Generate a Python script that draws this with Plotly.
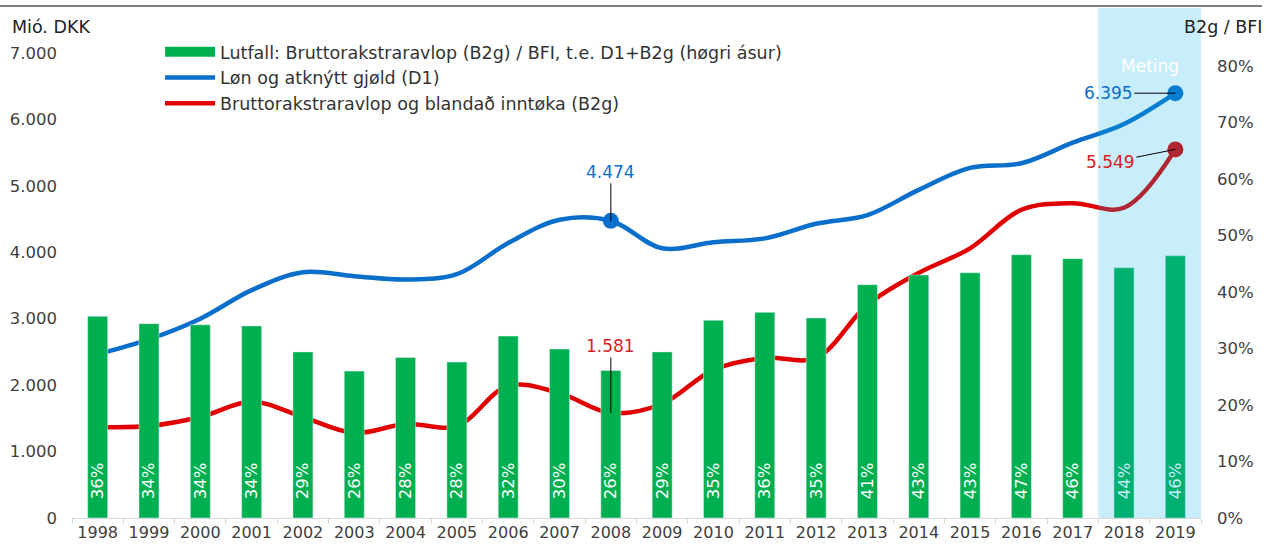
import plotly.graph_objects as go

years = [str(y) for y in range(1998, 2020)]
share_pct = [35.7, 34.4, 34.2, 34.0, 29.4, 26.0, 28.4, 27.6, 32.2, 29.9, 26.1, 29.4,
             35.0, 36.4, 35.4, 41.3, 43.0, 43.4, 46.6, 45.9, 44.3, 46.4]
share_labels = ["36%", "34%", "34%", "34%", "29%", "26%", "28%", "28%", "32%", "30%", "26%",
                "29%", "35%", "36%", "35%", "41%", "43%", "43%", "47%", "46%", "44%", "46%"]
d1 = [2469, 2690, 3000, 3430, 3700, 3640, 3590, 3670, 4140, 4490, 4474, 4060,
      4150, 4210, 4430, 4560, 4940, 5270, 5340, 5650, 5930, 6395]
b2g = [1370, 1385, 1520, 1750, 1520, 1280, 1415, 1385, 1990, 1880, 1581, 1720,
       2230, 2410, 2410, 3210, 3690, 4060, 4640, 4740, 4670, 5549]
highlight_years = ["2008", "2019"]

names = ["Lutfall: Bruttorakstraravlop (B2g) / BFI, t.e. D1+B2g (høgri ásur)",
         "Løn og atknýtt gjøld (D1)",
         "Bruttorakstraravlop og blandað inntøka (B2g)"]

GREEN = "#00b050"
BLUE = "#0a6fca"
RED = "#e00000"
FONT = "DejaVu Sans"
TXT = "#404040"
NB = "\u00a0"

fig = go.Figure()

fig.add_trace(go.Bar(
    x=years, y=[v / 100 for v in share_pct], yaxis="y2", marker_color=GREEN,
    width=0.39, text=[NB * 3 + s for s in share_labels], textposition="inside",
    insidetextanchor="start", textangle=-90, constraintext="none",
    textfont=dict(color="white", size=16.5, family=FONT),
    showlegend=False, hoverinfo="skip"))

# legend proxy for the bars
fig.add_trace(go.Scatter(x=[None], y=[None], mode="lines", name=names[0],
                         line=dict(color=GREEN, width=10)))

fig.add_trace(go.Scatter(x=years, y=d1, mode="lines", name=names[1],
                         line=dict(color=BLUE, width=4.5, shape="spline", smoothing=1.0)))
fig.add_trace(go.Scatter(x=years, y=b2g, mode="lines", name=names[2],
                         line=dict(color=RED, width=4.5, shape="spline", smoothing=1.0)))

idx = [years.index(y) for y in highlight_years]
fig.add_trace(go.Scatter(x=highlight_years, y=[d1[i] for i in idx], mode="markers",
                         marker=dict(color=BLUE, size=16), showlegend=False))
fig.add_trace(go.Scatter(x=highlight_years, y=[b2g[i] for i in idx], mode="markers",
                         marker=dict(color=RED, size=16), showlegend=False))

def fmt(v):
    return f"{v:,}".replace(",", ".")

anns = []
offs_d1 = [(0, -49), (-67, 0)]
offs_b2 = [(0, -67), (-65, 13)]
for k, i in enumerate(idx):
    anns.append(dict(x=i, y=d1[i], text=fmt(d1[i]), showarrow=True, arrowhead=0,
                     arrowwidth=1, arrowcolor="#000", ax=offs_d1[k][0], ay=offs_d1[k][1],
                     standoff=0, font=dict(color=BLUE, size=17, family=FONT)))
    anns.append(dict(x=i, y=b2g[i], text=fmt(b2g[i]), showarrow=True, arrowhead=0,
                     arrowwidth=1, arrowcolor="#000", ax=offs_b2[k][0], ay=offs_b2[k][1],
                     standoff=0, font=dict(color="#d81e1e", size=17, family=FONT)))

anns.append(dict(xref="paper", yref="paper", x=-0.0549, y=1.056, xanchor="left", yanchor="middle",
                 text="Mió. DKK", showarrow=False, font=dict(color="#222", size=17.5, family=FONT)))
anns.append(dict(xref="paper", yref="paper", x=1.0567, y=1.056, xanchor="right", yanchor="middle",
                 text="B2g / BFI", showarrow=False, font=dict(color="#222", size=17.5, family=FONT)))
anns.append(dict(xref="x", yref="paper", x=20.5, y=0.972, xanchor="center", yanchor="middle",
                 text="Meting", showarrow=False, font=dict(color="white", size=17, family=FONT)))

shapes = [
    dict(type="rect", xref="x", yref="paper", x0=19.5, x1=21.5, y0=0, y1=1.097,
         fillcolor="rgba(0,176,232,0.22)", line=dict(width=0), layer="above"),
    dict(type="line", xref="paper", yref="paper", x0=-0.064, x1=1.054, y0=1.101, y1=1.101,
         line=dict(color="#555", width=1.5)),
]

fig.update_layout(
    width=1267, height=544,
    margin=dict(l=72, r=66, t=53, b=26),
    paper_bgcolor="white", plot_bgcolor="white",
    font=dict(family=FONT, size=16, color=TXT),
    separators=",.",
    barmode="overlay",
    xaxis=dict(type="category", range=[-0.5, 21.5], showgrid=False, showline=True,
               linecolor="#d9d9d9", linewidth=1, ticks="outside", tickson="boundaries",
               ticklen=5, tickcolor="#d9d9d9", tickfont=dict(size=16, color=TXT),
               ticklabelstandoff=0, automargin=False),
    yaxis=dict(range=[0, 7000], dtick=1000, tickformat=",d", showgrid=False, zeroline=False,
               showline=False, tickfont=dict(size=16.5, color=TXT), ticklabelstandoff=14,
               automargin=False),
    yaxis2=dict(range=[0, 0.823], overlaying="y", side="right", tickvals=[i / 10 for i in range(9)],
                tickformat=".0%", showgrid=False, zeroline=False, showline=False,
                tickfont=dict(size=16.5, color=TXT), ticklabelstandoff=15, automargin=False),
    legend=dict(x=0.078, y=1.041, xanchor="left", yanchor="top", bgcolor="rgba(0,0,0,0)",
                font=dict(size=17.5, color="#333", family=FONT), tracegroupgap=0,
                itemwidth=50),
    annotations=anns, shapes=shapes,
    hovermode=False,
)

fig.write_html("out.html", post_script="document.body.style.margin='0';",
               config={"displayModeBar": False})
